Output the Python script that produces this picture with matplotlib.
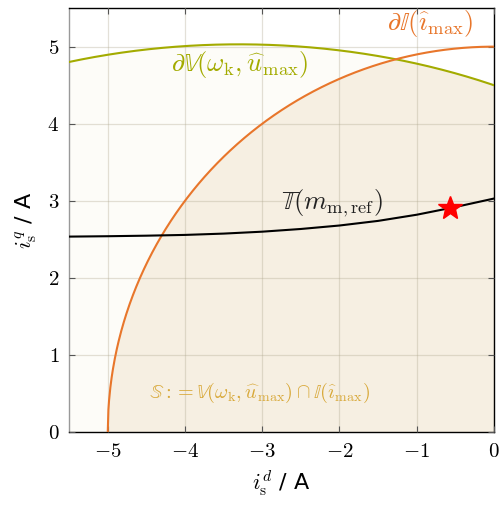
import numpy as np
import matplotlib
matplotlib.use("Agg")
import matplotlib.pyplot as plt

plt.rcParams['mathtext.fontset'] = 'cm'
plt.rcParams['font.family'] = 'DejaVu Serif'

# current limit circle I(i_max)
i_max = 5.0
# voltage ellipse V(w_k, u_max): center on d-axis, semi-axes
ell_center = -3.3
ell_a = 7.38
ell_b = 5.03
# torque curve T(m_m,ref)
torque_id = [-5.5, -5.0, -4.5, -4.0, -3.5, -3.0, -2.5, -2.0, -1.5, -1.0, -0.5, 0.0]
torque_iq = [2.535, 2.540, 2.547, 2.557, 2.574, 2.599, 2.634, 2.679, 2.739, 2.819, 2.919, 3.029]
# operating point
star_id = -0.57
star_iq = 2.9

c_orange = '#e8762b'
c_green = '#a3ab00'
c_gold = '#d8a838'

fig = plt.figure(figsize=(5.01, 5.07), dpi=100)
ax = fig.add_axes([0.138, 0.148, 0.848, 0.836])

xs = np.linspace(-5.5, 0, 600)
ell = ell_b * np.sqrt(1 - ((xs - ell_center) / ell_a) ** 2)
xc = np.linspace(-i_max, 0, 600)
circ = np.sqrt(i_max ** 2 - xc ** 2)
ell_c = ell_b * np.sqrt(1 - ((xc - ell_center) / ell_a) ** 2)

ax.fill_between(xs, 0, ell, color='#fdfcf8', zorder=0)
ax.fill_between(xc, 0, np.minimum(circ, ell_c), color='#f6efe2', zorder=0)

ax.grid(True, color='#b0a890', alpha=0.35, linewidth=0.9, zorder=1)
ax.set_axisbelow(False)
for gl in ax.get_xgridlines() + ax.get_ygridlines():
    gl.set_zorder(1)

ax.plot(xs, ell, color=c_green, linewidth=1.5, zorder=3)
ax.plot(xc, circ, color=c_orange, linewidth=1.5, zorder=3)
ax.plot(torque_id, torque_iq, color='black', linewidth=1.5, zorder=3)
ax.plot(star_id, star_iq, marker='*', color='red', markersize=18, zorder=4)

ax.text(-3.29, 4.77, r'$\partial\mathbb{V}(\omega_\mathrm{k},\widehat{u}_\mathrm{max})$',
        color=c_green, fontsize=19, ha='center', va='center', zorder=5)
ax.text(-0.82, 5.3, r'$\partial\mathbb{I}(\widehat{\imath}_\mathrm{max})$',
        color=c_orange, fontsize=19, ha='center', va='center', zorder=5)
ax.text(-2.1, 2.97, r'$\mathbb{T}(m_\mathrm{m,ref})$',
        color='#222222', fontsize=19, ha='center', va='center', zorder=5)
ax.text(-3.03, 0.5, r'$\mathbb{S} := \mathbb{V}(\omega_\mathrm{k},\widehat{u}_\mathrm{max}) \cap \mathbb{I}(\widehat{\imath}_\mathrm{max})$',
        color=c_gold, fontsize=14.5, ha='center', va='center', zorder=5)

ax.set_xlim(-5.5, 0)
ax.set_ylim(0, 5.5)
ax.set_xticks([-5, -4, -3, -2, -1, 0])
ax.set_yticks([0, 1, 2, 3, 4, 5])
ax.set_xticklabels([r'$-5$', r'$-4$', r'$-3$', r'$-2$', r'$-1$', r'$0$'])
ax.set_yticklabels([r'$0$', r'$1$', r'$2$', r'$3$', r'$4$', r'$5$'])
ax.tick_params(direction='in', length=4, width=0.8, top=True, right=True,
               labelsize=15, colors='#555555', labelcolor='black', pad=7)

for side in ['top', 'right', 'bottom']:
    ax.spines[side].set_color('black')
    ax.spines[side].set_linewidth(1.0)
ax.spines['left'].set_color('#999999')
ax.spines['left'].set_linewidth(1.0)

ax.set_xlabel(r'$i_\mathrm{s}^d$' + ' / A', fontsize=16, family=['DejaVu Sans'], labelpad=6)
ax.set_ylabel(r'$i_\mathrm{s}^q$' + ' / A', fontsize=16, family=['DejaVu Sans'], labelpad=6)

fig.savefig('out.png', dpi=100)
